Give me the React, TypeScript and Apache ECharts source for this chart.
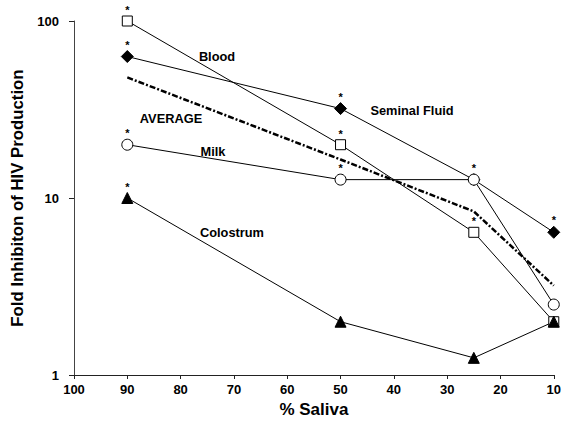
import React, { useEffect, useRef } from "react";
import * as echarts from "echarts";

const salivaPct = [90, 50, 25, 10];
const blood = [100, 20, 6.4, 2];
const seminal = [63, 32, 12.7, 6.4];
const milk = [20, 12.7, 12.7, 2.5];
const colostrum = [10, 2, 1.25, 2];
const average = [48, 16.5, 8.4, 3.2];

const bloodSig = [1, 1, 1, 0];
const seminalSig = [1, 1, 0, 1];
const milkSig = [1, 1, 1, 0];
const colostrumSig = [1, 0, 0, 0];

const xTicks = [100, 90, 80, 70, 60, 50, 40, 30, 20, 10];
const yTicks = [1, 10, 100];

const FONT = 'Arial, "Liberation Sans", Helvetica, sans-serif';

function pts(vals: number[], sig?: number[]) {
  return salivaPct.map((x, i) => {
    const item: any = { value: [x, vals[i]] };
    if (sig && sig[i]) {
      item.label = {
        show: true,
        position: "top",
        distance: 0,
        formatter: "*",
        fontSize: 11,
        fontWeight: "bold",
        fontFamily: FONT,
        color: "#000",
        textBorderWidth: 0,
      };
    }
    return item;
  });
}

function seriesOf(name: string, vals: number[], sig: number[], symbol: string, fill: string, size: number) {
  return {
    name,
    type: "line",
    data: pts(vals, sig),
    symbol,
    symbolSize: size,
    showAllSymbol: true,
    lineStyle: { color: "#000", width: 1 },
    itemStyle: { color: fill, borderColor: "#000", borderWidth: 1 },
    label: { show: false, color: "#000" },
    z: 3,
  };
}

export default function App() {
  const ref = useRef<HTMLDivElement>(null);
  useEffect(() => {
    if (!ref.current) return;
    const chart = echarts.init(ref.current, null, { renderer: "svg" });
    const labelStyle = (text: string, x: number, y: number) => ({
      type: "text",
      x,
      y,
      style: {
        text,
        align: "center",
        verticalAlign: "middle",
        fontSize: 12.8,
        fontWeight: "bold",
        fontFamily: FONT,
        fill: "#000",
      },
      z: 10,
    });
    chart.setOption({
      animation: false,
      backgroundColor: "#fff",
      grid: { left: 74, right: 8, top: 21, bottom: 45, containLabel: false },
      xAxis: {
        type: "value",
        inverse: true,
        min: 10,
        max: 100,
        interval: 10,
        name: "% Saliva",
        nameLocation: "middle",
        nameGap: 26,
        nameTextStyle: { fontSize: 17, fontWeight: "bold", fontFamily: FONT, color: "#000" },
        axisLine: { onZero: false, lineStyle: { color: "#222", width: 1 } },
        axisTick: { show: true, length: 4, inside: false, lineStyle: { color: "#222" } },
        axisLabel: {
          margin: 8,
          fontSize: 13,
          fontWeight: "bold",
          fontFamily: FONT,
          color: "#000",
          formatter: (v: number) => (xTicks.includes(v) ? String(v) : ""),
        },
        splitLine: { show: false },
      },
      yAxis: {
        type: "log",
        logBase: 10,
        min: 1,
        max: 100,
        name: "Fold Inhibiton of HIV Production",
        nameLocation: "middle",
        nameGap: 42,
        nameTextStyle: { fontSize: 16.8, fontWeight: "bold", fontFamily: FONT, color: "#000" },
        axisLine: { show: true, onZero: false, lineStyle: { color: "#444", width: 1 } },
        axisTick: { show: true, length: 5, inside: false, lineStyle: { color: "#222" } },
        minorTick: { show: false },
        axisLabel: {
          margin: 15,
          fontSize: 13,
          fontWeight: "bold",
          fontFamily: FONT,
          color: "#000",
          formatter: (v: number) => (yTicks.includes(Math.round(v)) ? String(Math.round(v)) : ""),
        },
        splitLine: { show: false },
      },
      series: [
        seriesOf("Blood", blood, bloodSig, "rect", "#fff", 10),
        seriesOf("Seminal Fluid", seminal, seminalSig, "diamond", "#000", 12),
        seriesOf("Milk", milk, milkSig, "circle", "#fff", 11),
        {
          name: "AVERAGE",
          type: "line",
          data: pts(average),
          symbol: "none",
          lineStyle: { color: "#000", width: 2.5, type: [6, 2, 2, 2] },
          z: 2,
        },
        seriesOf("Colostrum", colostrum, colostrumSig, "triangle", "#000", 11),
      ],
      graphic: [
        labelStyle("Blood", 217, 56),
        labelStyle("Seminal Fluid", 412, 110),
        labelStyle("AVERAGE", 171, 118),
        labelStyle("Milk", 213, 151),
        labelStyle("Colostrum", 232, 232),
      ],
    });
    return () => chart.dispose();
  }, []);
  return <div ref={ref} style={{ position: "fixed", left: 0, top: 0, width: 564, height: 423 }} />;
}
